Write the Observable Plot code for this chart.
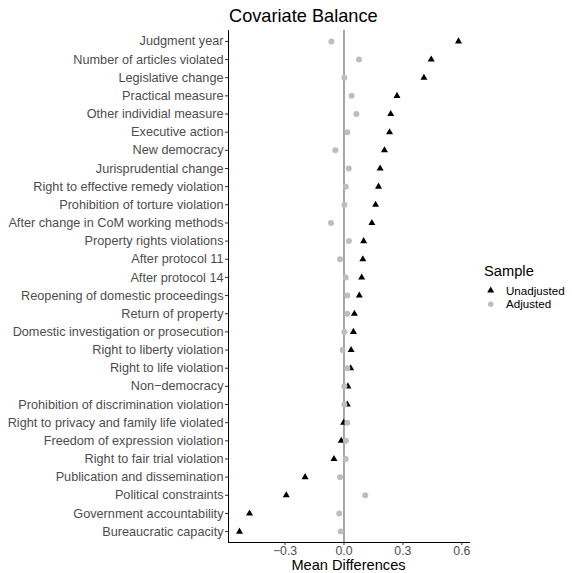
<!DOCTYPE html>
<html><head><meta charset="utf-8">
<script src="https://cdn.jsdelivr.net/npm/d3@7"></script>
<script src="https://cdn.jsdelivr.net/npm/@observablehq/plot@0.6"></script>
<style>
body{margin:0;background:#fff;font-family:"Liberation Sans",Arial,sans-serif;}
#wrap{position:relative;width:572px;height:573px;overflow:hidden;}
#title{position:absolute;left:229px;top:6.5px;font-size:18.2px;line-height:1;color:#000;white-space:nowrap;}
#xlabel{position:absolute;left:228px;width:241px;text-align:center;top:556.7px;font-size:14.6px;line-height:16.2px;color:#000;}
#legend{position:absolute;left:470px;top:255px;}
#chart svg{display:block;}
</style></head><body>
<div id="wrap"><div id="chart"></div><div id="title">Covariate Balance</div><div id="xlabel">Mean Differences</div><div id="legend"></div></div>
<script>
const labels = [
  "Judgment year","Number of articles violated","Legislative change","Practical measure",
  "Other individial measure","Executive action","New democracy","Jurisprudential change",
  "Right to effective remedy violation","Prohibition of torture violation","After change in CoM working methods",
  "Property rights violations","After protocol 11","After protocol 14","Reopening of domestic proceedings",
  "Return of property","Domestic investigation or prosecution","Right to liberty violation","Right to life violation",
  "Non\u2212democracy","Prohibition of discrimination violation","Right to privacy and family life violated",
  "Freedom of expression violation","Right to fair trial violation","Publication and dissemination",
  "Political constraints","Government accountability","Bureaucratic capacity"
];
const unadjusted = [0.583,0.444,0.407,0.270,0.238,0.232,0.206,0.184,0.176,0.161,0.142,0.100,0.096,0.090,0.078,0.053,0.048,0.036,0.034,0.020,0.017,-0.002,-0.014,-0.051,-0.198,-0.294,-0.481,-0.532];
const adjusted = [-0.064,0.076,0.002,0.039,0.063,0.017,-0.044,0.024,0.009,0.002,-0.066,0.025,-0.020,0.009,0.017,0.017,0.002,-0.007,0.017,0.002,0.002,0.017,0.010,0.009,-0.020,0.108,-0.024,-0.017];
const series = ["Unadjusted","Adjusted"];
const xTicks = [-0.3,0,0.3,0.6];
const xDomain = [-0.588,0.639];

const unRows = labels.map((l,i)=>({label:l, sample:series[0], value:unadjusted[i]}));
const adRows = labels.map((l,i)=>({label:l, sample:series[1], value:adjusted[i]}));

const plot = Plot.plot({
  width:572, height:573,
  marginLeft:228, marginRight:103, marginTop:30, marginBottom:31,
  style:{fontFamily:'"Liberation Sans", Arial, sans-serif', fontSize:"12.7px", background:"#fff", color:"#4d4d4d"},
  x:{domain:xDomain},
  y:{type:"point", domain:labels, padding:0.6, round:false},
  marks:[
    Plot.ruleX([0], {stroke:"#6b6b6b", strokeWidth:1.2}),
    Plot.dot(unRows, {x:"value", y:"label", symbol:"triangle", fill:"#000", r:2.6}),
    Plot.dot(adRows, {x:"value", y:"label", symbol:"circle", fill:"#bebebe", r:3}),
    Plot.axisX({ticks:xTicks, tickFormat:d3.format(".1f"), tickSize:3, tickPadding:0.5, fontSize:12.3, fill:"#4d4d4d", stroke:"#333", label:null}),
    Plot.axisY({tickSize:3, tickPadding:2, fontSize:12.7, fill:"#4d4d4d", stroke:"#333", label:null}),
    Plot.frame({anchor:"left", stroke:"#000"}),
    Plot.frame({anchor:"bottom", stroke:"#000"})
  ]
});
document.getElementById("chart").appendChild(plot);

// legend
const lg = d3.select("#legend").append("svg").attr("width",102).attr("height",62)
  .style("font-family",'"Liberation Sans", Arial, sans-serif');
lg.append("text").attr("x",14).attr("y",20.5).attr("font-size","14.7px").attr("fill","#000").text("Sample");
const itemY = [35.5, 49.2];
lg.append("path").attr("transform",`translate(20.7,${itemY[0]})`)
  .attr("d", d3.symbol(d3.symbolTriangle, Math.PI*2.6*2.6)()).attr("fill","#000");
lg.append("circle").attr("cx",20.7).attr("cy",itemY[1]).attr("r",2.7).attr("fill","#bebebe");
series.forEach((s,i)=>{
  lg.append("text").attr("x",36).attr("y",itemY[i]).attr("dy","0.35em").attr("font-size","11.6px").attr("fill","#000").text(s);
});
</script>
</body></html>
